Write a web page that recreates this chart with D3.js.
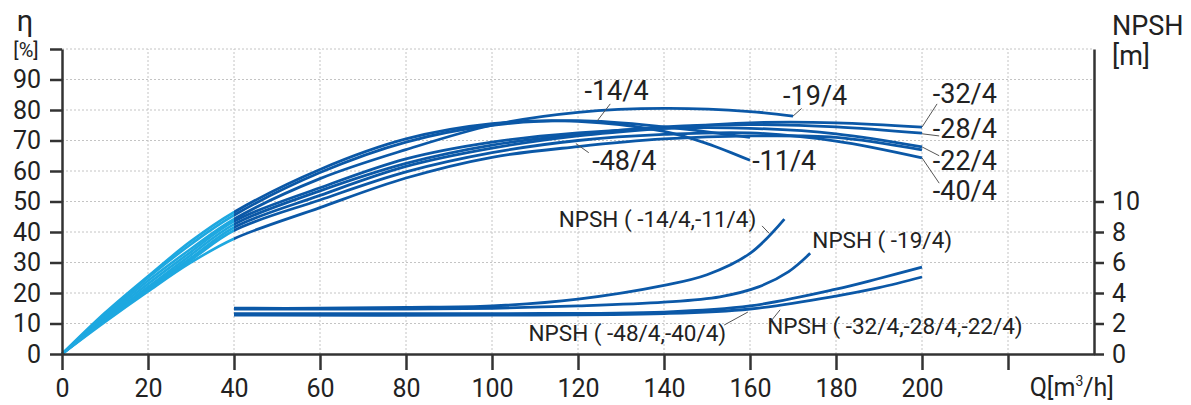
<meta charset="utf-8">
<html>
<head>
<style>
  body { margin: 0; background: #fff; }
  .axis text { font-family: Roboto, sans-serif; font-size: 25px; fill: #222; }
  .axis line, .axis path { stroke: #333; stroke-width: 2.5; }
  .grid line { stroke: #c4c4c4; stroke-width: 1; stroke-dasharray: 2,2; }
  .lbl { font-family: Roboto, sans-serif; font-size: 27px; fill: #222; }
  .nlbl { font-family: Roboto, sans-serif; font-size: 22.5px; fill: #222; }
  .leader { stroke: #555; stroke-width: 1; fill: none; }
</style>
</head>
<script src="https://cdnjs.cloudflare.com/ajax/libs/d3/7.8.5/d3.min.js"></script>
<body>
<div id="chart"></div>
<script>
// efficiency curves [Q, eta %]
var eff_11 = [[0,0],[10,13.5],[20,25.5],[30,37],[40,46.5],[60,60.5],[80,70.5],[100,75.5],[120,76.3],[140,73],[150,69],[160,63.5]];
var eff_14 = [[0,0],[10,13],[20,25],[30,36],[40,45.5],[60,59.5],[80,69.5],[100,75],[120,76.5],[140,74.5],[160,71]];
var eff_19 = [[0,0],[10,12.5],[20,24],[30,34.5],[40,44.2],[60,57.5],[80,67],[100,75],[120,79.2],[140,80.5],[160,79.5],[170,78]];
var eff_22 = [[0,0],[10,12],[20,23],[30,33.5],[40,43.5],[60,54.5],[80,64],[100,69.5],[120,72.5],[140,74],[160,74],[180,72.2],[200,67.9]];
var eff_28 = [[0,0],[10,11.5],[20,22],[30,32.5],[40,42.5],[60,53.5],[80,62.5],[100,68.5],[120,72],[140,74.5],[160,75.2],[180,74.5],[200,72.4]];
var eff_32 = [[0,0],[10,11],[20,21.5],[30,31.5],[40,41.5],[60,52],[80,61.5],[100,67.5],[120,71.5],[140,74],[160,75.8],[180,75.8],[200,74.4]];
var eff_40 = [[0,0],[10,11],[20,21],[30,30.8],[40,40.5],[60,50.5],[80,59.7],[100,66],[120,70],[140,72],[160,72.5],[180,69.8],[200,64.3]];
var eff_48 = [[0,0],[10,10.5],[20,20.5],[30,30],[40,37.8],[60,48],[80,57.7],[100,64.5],[120,68],[140,70.5],[160,71.5],[180,71],[200,66.9]];

// NPSH curves [Q, m]
var npsh_14_11 = [[40,3.0],[60,3.0],[80,3.05],[100,3.15],[120,3.6],[140,4.5],[150,5.2],[160,6.6],[168,8.85]];
var npsh_19 = [[40,2.95],[80,2.95],[100,3.0],[120,3.15],[140,3.4],[153,3.75],[162,4.4],[169,5.4],[174,6.6]];
var npsh_32_28_22 = [[40,2.65],[100,2.65],[140,2.75],[160,3.15],[180,4.25],[190,4.95],[200,5.7]];
var npsh_48_40 = [[40,2.55],[100,2.55],[140,2.65],[160,2.95],[180,3.8],[190,4.35],[200,5.05]];

var effSeries = [eff_11, eff_14, eff_19, eff_22, eff_28, eff_32, eff_40, eff_48];
var npshSeries = [npsh_14_11, npsh_19, npsh_32_28_22, npsh_48_40];

var xTicks = [0,20,40,60,80,100,120,140,160,180,200,220];
var yTicks = [0,10,20,30,40,50,60,70,80,90,100];
var nTicks = [0,2,4,6,8,10];

var W = 1191, H = 405;
var svg = d3.select("#chart").append("svg").attr("width", W).attr("height", H);

var x = d3.scaleLinear().domain([0, 240]).range([62, 1094]);
var y = d3.scaleLinear().domain([0, 100]).range([354, 49]);
var yN = d3.scaleLinear().domain([0, 20]).range([354, 49]);

var light = "#1ea8e0", dark = "#0b58a7";

// grid
var grid = svg.append("g").attr("class", "grid");
grid.selectAll(".h").data(yTicks.slice(1)).enter().append("line")
  .attr("x1", x(0)).attr("x2", x(240)).attr("y1", d => y(d)).attr("y2", d => y(d));
grid.selectAll(".v").data(xTicks.slice(1)).enter().append("line")
  .attr("x1", d => x(d)).attr("x2", d => x(d)).attr("y1", y(0)).attr("y2", y(100));

// clips for light / dark part
var defs = svg.append("defs");
defs.append("clipPath").attr("id", "cLight").append("rect")
  .attr("x", 0).attr("y", 0).attr("width", x(40)).attr("height", H);
defs.append("clipPath").attr("id", "cDark").append("rect")
  .attr("x", x(40)).attr("y", 0).attr("width", W - x(40)).attr("height", H);

var line = d3.line().x(d => x(d[0])).y(d => y(d[1])).curve(d3.curveCatmullRom.alpha(0.5));
var lineN = d3.line().x(d => x(d[0])).y(d => yN(d[1])).curve(d3.curveCatmullRom.alpha(0.5));

svg.append("g").attr("clip-path", "url(#cLight)").selectAll("path").data(effSeries).enter()
  .append("path").attr("d", line).attr("fill", "none").attr("stroke", light).attr("stroke-width", 2.6);
svg.append("g").attr("clip-path", "url(#cDark)").selectAll("path").data(effSeries).enter()
  .append("path").attr("d", line).attr("fill", "none").attr("stroke", dark).attr("stroke-width", 2.8);

svg.append("g").selectAll("path").data(npshSeries).enter()
  .append("path").attr("d", lineN).attr("fill", "none").attr("stroke", dark).attr("stroke-width", 2.8);

// axes
svg.append("g").attr("class", "axis").attr("transform", "translate(" + x(0) + ",0)")
  .call(d3.axisLeft(y).tickValues(yTicks).tickSize(12).tickSizeOuter(0).tickPadding(9)
    .tickFormat(d => d === 100 ? "" : d));
svg.append("g").attr("class", "axis").attr("transform", "translate(" + x(240) + ",0)")
  .call(d3.axisRight(yN).tickValues(nTicks).tickSize(10).tickSizeOuter(0).tickPadding(8));
svg.append("g").attr("class", "axis").attr("transform", "translate(0," + y(0) + ")")
  .call(d3.axisBottom(x).tickValues(xTicks).tickSize(16).tickSizeOuter(0).tickPadding(9)
    .tickFormat(d => d === 220 ? "" : d));

// axis titles
svg.append("text").attr("class", "lbl").attr("x", 25).attr("y", 31).attr("text-anchor", "middle").style("font-size", "29px").text("η");
svg.append("text").attr("class", "nlbl").attr("x", 26).attr("y", 57).attr("text-anchor", "middle").style("font-size", "20px").text("[%]");
svg.append("text").attr("class", "lbl").attr("x", 1112).attr("y", 35).text("NPSH");
svg.append("text").attr("class", "lbl").attr("x", 1112).attr("y", 65).text("[m]");
var qt = svg.append("text").attr("class", "lbl").attr("x", 1114).attr("y", 396).attr("text-anchor", "end").style("font-size", "25px");
qt.append("tspan").text("Q[m");
qt.append("tspan").attr("dy", -10).style("font-size", "14px").text("3");
qt.append("tspan").attr("dy", 10).text("/h]");

// curve labels
var labels = [
  {t: "-14/4", q: 121.5, v: 83.3, lq1: 127.5, lv1: 82, lq2: 124.5, lv2: 76.5},
  {t: "-19/4", q: 167.7, v: 81.6, lq1: 172, lv1: 80.5, lq2: 170, lv2: 78},
  {t: "-48/4", q: 123.3, v: 60.3, lq1: 122.5, lv1: 66, lq2: 119.5, lv2: 69},
  {t: "-11/4", q: 160.5, v: 60.3},
  {t: "-32/4", q: 202.5, v: 82.3, lq1: 203.5, lv1: 82, lq2: 200, lv2: 74.4},
  {t: "-28/4", q: 202.5, v: 70.8, lq1: 200, lv1: 72.2, lq2: 204, lv2: 71.5},
  {t: "-22/4", q: 202.5, v: 60.3, lq1: 200, lv1: 67.9, lq2: 204, lv2: 65},
  {t: "-40/4", q: 202.5, v: 50.5, lq1: 200, lv1: 64.3, lq2: 204, lv2: 56}
];
labels.forEach(function(l) {
  svg.append("text").attr("class", "lbl").attr("x", x(l.q)).attr("y", y(l.v)).text(l.t);
  if (l.lq1 !== undefined)
    svg.append("line").attr("class", "leader")
      .attr("x1", x(l.lq1)).attr("y1", y(l.lv1)).attr("x2", x(l.lq2)).attr("y2", y(l.lv2));
});

var nlabels = [
  {t: "NPSH ( -14/4,-11/4)", q: 115.5, v: 8.3, lq1: 162.8, lv1: 8.4, lq2: 164.5, lv2: 7.9},
  {t: "NPSH ( -19/4)", q: 174.5, v: 6.95},
  {t: "NPSH ( -48/4,-40/4)", q: 108.5, v: 0.85, lq1: 154, lv1: 1.9, lq2: 159.5, lv2: 2.75},
  {t: "NPSH ( -32/4,-28/4,-22/4)", q: 164, v: 1.3, lq1: 165, lv1: 2.2, lq2: 167, lv2: 2.9}
];
nlabels.forEach(function(l) {
  svg.append("text").attr("class", "nlbl").attr("x", x(l.q)).attr("y", yN(l.v)).text(l.t);
  if (l.lq1 !== undefined)
    svg.append("line").attr("class", "leader")
      .attr("x1", x(l.lq1)).attr("y1", yN(l.lv1)).attr("x2", x(l.lq2)).attr("y2", yN(l.lv2));
});
</script>
</body>
</html>
